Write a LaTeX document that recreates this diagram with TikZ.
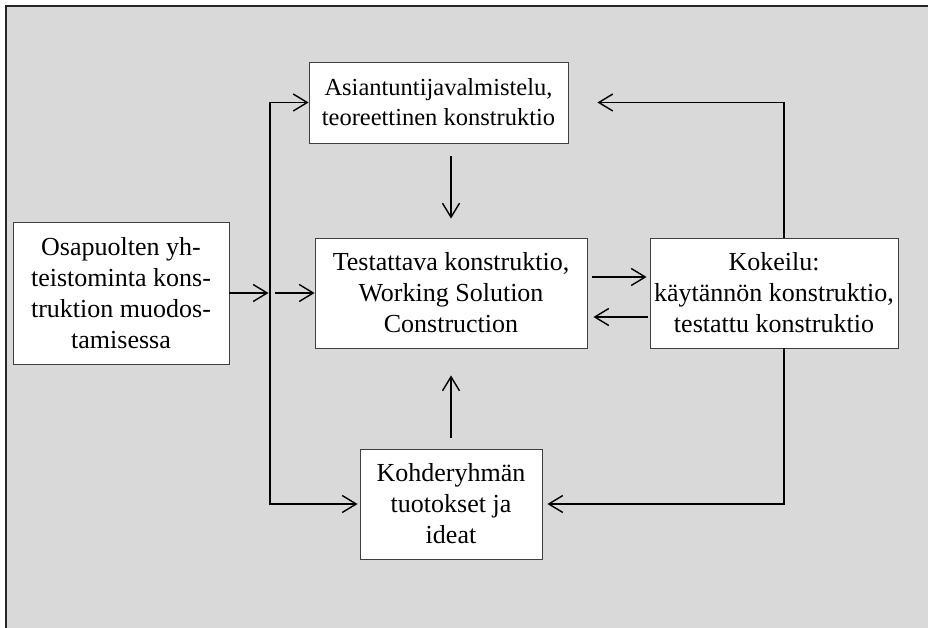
\documentclass[tikz,border=0pt]{standalone}
\usepackage{fontspec}
\setmainfont{Liberation Serif}
\usetikzlibrary{arrows.meta,calc}
\definecolor{bgray}{HTML}{D9D9D9}
\begin{document}
\begin{tikzpicture}[x=1pt,y=-1pt,
  box/.style={draw=black!75, line width=0.9pt, fill=white, align=center,
    inner sep=0pt, font=\fontsize{26}{31}\selectfont},
  link/.style={line width=1.4pt,
    -{Straight Barb[length=14pt,width=17pt,line width=1.4pt]}},
  ]
\useasboundingbox (0,0) rectangle (928,628);
% panel
\fill[white] (0,0) rectangle (928,628);
\fill[bgray] (6,6) rectangle (928,628);
\draw[line width=2.2pt, black!85] (6,628) -- (6,6) -- (928,6);

% boxes
\node[box, minimum width=216pt, minimum height=142pt] (party) at (121,293)
  {Osapuolten yh-\\teistominta kons-\\truktion muodos-\\tamisessa};
\node[box, minimum width=259pt, minimum height=81pt,
  font=\fontsize{24.5}{30}\selectfont] (expert) at (438.5,102.5)
  {Asiantuntijavalmistelu,\\teoreettinen konstruktio};
\node[box, minimum width=272pt, minimum height=110pt] (work) at (451,293)
  {Testattava konstruktio,\\Working Solution\\Construction};
\node[box, minimum width=248pt, minimum height=110pt] (trial) at (774,293)
  {Kokeilu:\\käytännön konstruktio,\\testattu konstruktio};
\node[box, minimum width=182pt, minimum height=110pt] (group) at (451,504)
  {Kohderyhmän\\tuotokset ja\\ideat};

% bus lines
\coordinate (busL) at (270,293);
\coordinate (busR) at (784,0);
\coordinate (drop) at (451,0);

% connectors
\draw[link, shorten >=1.5pt] (party.east) -- (busL);
\draw[link] ($(busL)+(5,0)$) -- (work.west);
\draw[link] (busL) |- (expert.west);
\draw[link, shorten >=2pt] (busL) |- (group.west);
\draw[link, shorten <=13pt, shorten >=19pt] (expert.south -| drop) -- (work.north);
\draw[link, shorten <=11pt, shorten >=27pt] (group.north) -- (work.south);
\draw[link, shorten <=5pt, shorten >=3pt]
  ($(work.east)+(0,-16)$) -- ($(trial.west)+(0,-16)$);
\draw[link, shorten <=2pt, shorten >=6pt]
  ($(trial.west)+(0,24)$) -- ($(work.east)+(0,24)$);
\draw[link, shorten >=29pt] (trial.north -| busR) |- (expert.east);
\draw[link, shorten >=5pt] (trial.south -| busR) |- (group.east);
\end{tikzpicture}
\end{document}
